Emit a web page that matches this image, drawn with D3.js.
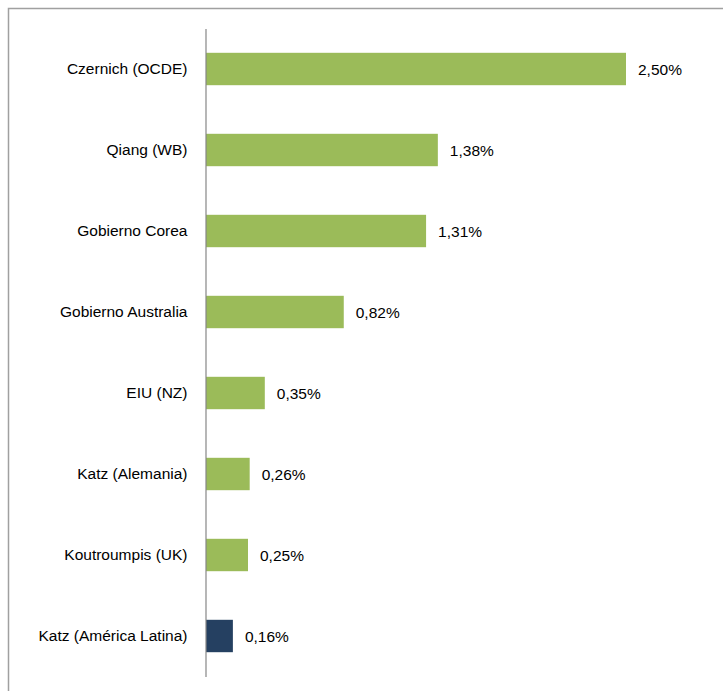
<!DOCTYPE html>
<html><head><meta charset="utf-8">
<script src="https://cdn.jsdelivr.net/npm/d3@7"></script>
<style>body{margin:0;background:#fff}svg{display:block}</style>
</head><body>
<script>
const categories = ["Czernich (OCDE)","Qiang (WB)","Gobierno Corea","Gobierno Australia","EIU (NZ)","Katz (Alemania)","Koutroumpis (UK)","Katz (América Latina)"];
const values = [2.50,1.38,1.31,0.82,0.35,0.26,0.25,0.16];
const highlight = ["Katz (América Latina)"];

const W=723,H=691;
const svg=d3.select("body").append("svg").attr("width",W).attr("height",H);
svg.append("rect").attr("x",8.5).attr("y",8.5).attr("width",W).attr("height",H).attr("fill","none").attr("stroke","#a0a0a0").attr("stroke-width",1.5);

const x=d3.scaleLinear().domain([0,2.5]).range([206,626]);
const y=d3.scaleBand().domain(categories).range([28.5,676.5]).paddingInner(0.6).paddingOuter(0.3);
const font="Liberation Sans, Arial, sans-serif";

svg.selectAll("rect.bar").data(categories).join("rect").attr("class","bar")
 .attr("x",x(0)).attr("y",d=>y(d)).attr("height",y.bandwidth())
 .attr("width",(d,i)=>x(values[i])-x(0))
 .attr("fill",d=>highlight.includes(d)?"#254061":"#9BBB59");

svg.selectAll("text.val").data(categories).join("text").attr("class","val")
 .attr("x",(d,i)=>x(values[i])+12).attr("y",d=>y(d)+y.bandwidth()/2+1).attr("dy","0.35em")
 .attr("font-family",font).attr("font-size",15.5).attr("fill","#000")
 .text((d,i)=>d3.format(".2f")(values[i]).replace(".",",")+"%");

const ax=d3.axisLeft(y).tickSize(0).tickPadding(18);
const g=svg.append("g").attr("transform",`translate(${x(0)-0.5},0)`).call(ax);
g.select(".domain").attr("stroke","#868686").attr("stroke-width",1.2);
g.selectAll("text").attr("font-family",font).attr("font-size",15.5).attr("fill","#000");
</script>
</body></html>
